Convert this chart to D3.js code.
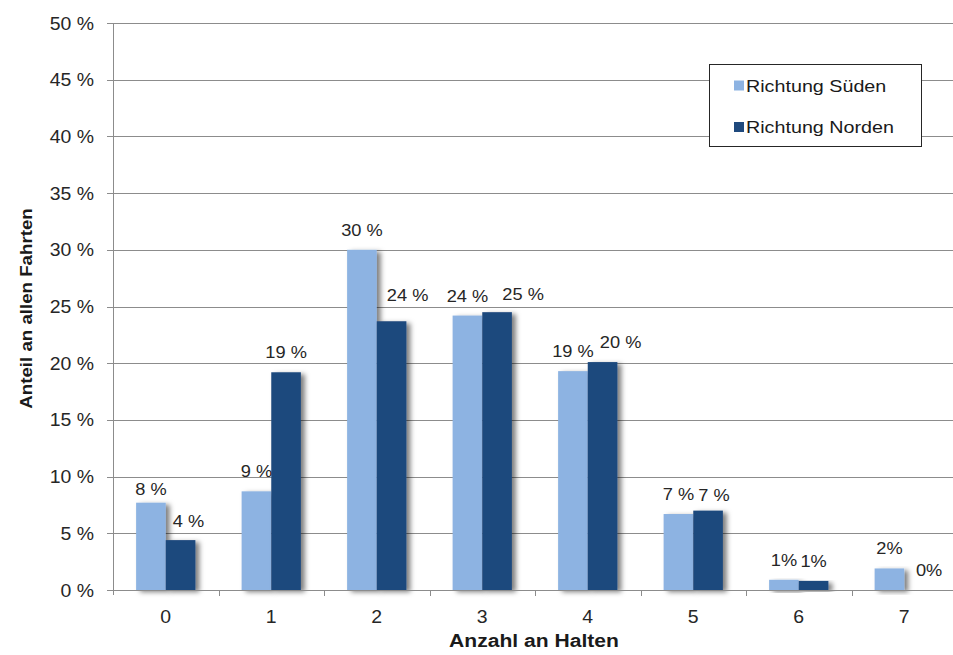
<!DOCTYPE html>
<html>
<head>
<meta charset="utf-8">
<script src="https://cdn.jsdelivr.net/npm/d3@7"></script>
<style>
  html, body { margin: 0; padding: 0; background: #fff; }
  svg { display: block; font-family: "Liberation Sans", Arial, sans-serif; }
</style>
</head>
<body>
<svg id="chart" width="953" height="655"></svg>
<script>
// Anzahl an Halten pro Fahrt, getrennt nach Fahrtrichtung
const categories = ["0", "1", "2", "3", "4", "5", "6", "7"];
const seriesNames = ["Richtung Süden", "Richtung Norden"];
const sued  = [7.7, 8.7, 30.0, 24.2, 19.3, 6.7, 0.9, 1.9];
const nord  = [4.4, 19.2, 23.7, 24.5, 20.1, 7.0, 0.8, 0.0];
// label text as printed (value rounded, with the chart's own spacing)
const suedLabelSuffix = [" %", " %", " %", " %", " %", " %", "%", "%"];
const nordLabelSuffix = [" %", " %", " %", " %", " %", " %", "%", "%"];
const yTicks = [0, 5, 10, 15, 20, 25, 30, 35, 40, 45, 50];

const colors = ["#8db3e2", "#1f497d"];

// label nudges (px) relative to the default spot above each bar
const labelNudge = {
  "0-0": [0, 6], "1-0": [8, 1], "1-2": [16, -6], "1-3": [26, 2],
  "1-4": [18, 0], "1-5": [6, 4], "1-7": [10, 0]
};

const svg = d3.select("#chart");
const W = 953, H = 655;
const x0 = 113, x1 = 957, yTop = 23, yBot = 590;

const x = d3.scaleBand().domain(categories).range([x0, x1]).paddingInner(0).paddingOuter(0);
const xs = d3.scaleBand().domain(seriesNames).range([0, x.bandwidth()]).paddingInner(0).paddingOuter(0.78);
const y = d3.scaleLinear().domain([0, 50]).range([yBot, yTop]);

const defs = svg.append("defs");
const f = defs.append("filter").attr("id", "shadow")
  .attr("x", "-30%").attr("y", "-10%").attr("width", "170%").attr("height", "130%");
f.append("feDropShadow").attr("dx", 4).attr("dy", 2).attr("stdDeviation", 2.6)
  .attr("flood-color", "#000").attr("flood-opacity", 0.5);

// gridlines + y ticks
svg.append("g").selectAll("line").data(yTicks).join("line")
  .attr("x1", x0 - 6).attr("x2", W)
  .attr("y1", d => Math.round(y(d)) + 0.5).attr("y2", d => Math.round(y(d)) + 0.5)
  .attr("stroke", "#8c8c8c").attr("stroke-width", 1);

// y tick labels
svg.append("g").selectAll("text").data(yTicks).join("text")
  .attr("transform", d => `translate(94,${y(d) + 6.5}) scale(1.08,1)`)
  .attr("text-anchor", "end")
  .attr("font-size", 18)
  .attr("fill", "#262626")
  .text(d => d + " %");

// bars
const rows = categories.map((c, i) => ({ c, i, vals: [sued[i], nord[i]] }));
const groups = svg.append("g").selectAll("g").data(rows).join("g")
  .attr("transform", d => `translate(${x(d.c)},0)`);

groups.selectAll("rect").data(d => d.vals.map((v, s) => ({ v, s, i: d.i })))
  .join("rect")
  .filter(d => d.v > 0)
  .attr("x", d => xs(seriesNames[d.s]))
  .attr("width", xs.bandwidth())
  .attr("y", d => y(d.v))
  .attr("height", d => y(0) - y(d.v))
  .attr("fill", d => colors[d.s])
  .attr("filter", "url(#shadow)");

// axes lines
svg.append("line").attr("x1", x0 + 0.5).attr("x2", x0 + 0.5).attr("y1", yTop).attr("y2", yBot + 5)
  .attr("stroke", "#8c8c8c");
svg.append("line").attr("x1", x0 - 6).attr("x2", W).attr("y1", yBot + 0.5).attr("y2", yBot + 0.5)
  .attr("stroke", "#8c8c8c");
svg.append("g").selectAll("line").data(categories.slice(1)).join("line")
  .attr("x1", d => Math.round(x(d)) + 0.5).attr("x2", d => Math.round(x(d)) + 0.5)
  .attr("y1", yBot).attr("y2", yBot + 6)
  .attr("stroke", "#8c8c8c");

// x tick labels
svg.append("g").selectAll("text").data(categories).join("text")
  .attr("transform", d => `translate(${x(d) + x.bandwidth() / 2},623) scale(1.08,1)`)
  .attr("text-anchor", "middle")
  .attr("font-size", 18)
  .attr("fill", "#262626")
  .text(d => d);

// value labels
const labelData = [];
categories.forEach((c, i) => {
  [sued[i], nord[i]].forEach((v, s) => {
    const suffix = s === 0 ? suedLabelSuffix[i] : nordLabelSuffix[i];
    const n = labelNudge[`${s}-${i}`] || [0, 0];
    labelData.push({
      text: Math.round(v) + suffix,
      cx: x(c) + xs(seriesNames[s]) + xs.bandwidth() / 2 + n[0],
      by: y(v) - 14 + n[1]
    });
  });
});
svg.append("g").selectAll("text").data(labelData).join("text")
  .attr("transform", d => `translate(${d.cx},${d.by}) scale(1.14,1)`)
  .attr("text-anchor", "middle")
  .attr("font-size", 16)
  .attr("fill", "#262626")
  .text(d => d.text);

// axis titles
svg.append("text")
  .attr("transform", `translate(534,647) scale(1.14,1)`)
  .attr("text-anchor", "middle")
  .attr("font-size", 18.5)
  .attr("font-weight", "bold")
  .attr("fill", "#1a1a1a")
  .text("Anzahl an Halten");
svg.append("text")
  .attr("transform", `translate(32,308.5) rotate(-90) scale(1.1,1)`)
  .attr("text-anchor", "middle")
  .attr("font-size", 17)
  .attr("font-weight", "bold")
  .attr("fill", "#1a1a1a")
  .text("Anteil an allen Fahrten");

// legend
const lg = svg.append("g");
lg.append("rect").attr("x", 709.5).attr("y", 64.5).attr("width", 212).attr("height", 82)
  .attr("fill", "#fff").attr("stroke", "#262626").attr("stroke-width", 1);
seriesNames.forEach((name, s) => {
  const by = 91.5 + s * 41.5;
  lg.append("rect").attr("x", 734).attr("y", by - 11).attr("width", 10).attr("height", 10)
    .attr("fill", colors[s]);
  lg.append("text")
    .attr("transform", `translate(746,${by}) scale(1.16,1)`)
    .attr("font-size", 17)
    .attr("fill", "#1a1a1a")
    .text(name);
});
</script>
</body>
</html>
